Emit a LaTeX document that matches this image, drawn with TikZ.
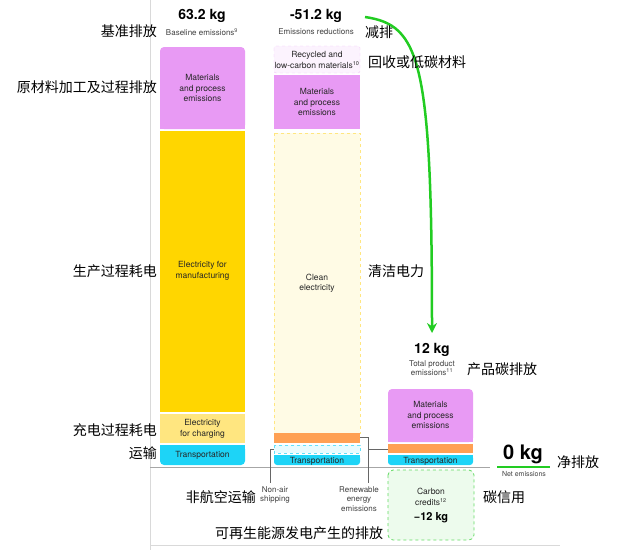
\documentclass[tikz,border=0pt]{standalone}
\usepackage{fontspec}
\usetikzlibrary{arrows.meta}
\setmainfont{TeX Gyre Heros}
\newfontfamily\cjk{Noto Sans CJK SC}
\begin{document}
\begin{tikzpicture}[x=1pt,y=-1pt,
  blk/.style={inner sep=0pt,align=center,font=\fontsize{8.5}{10.5}\selectfont,text=black!85},
  zh/.style={inner sep=0pt,font=\cjk\fontsize{14}{16}\selectfont},
  kg/.style={inner sep=0pt,font=\bfseries\fontsize{14}{16}\selectfont},
  sub/.style={inner sep=0pt,font=\fontsize{8}{9.5}\selectfont,text=black!75},
  lead/.style={draw=black!60,line width=0.6pt}]
\useasboundingbox (0,0) rectangle (640,550);
\definecolor{pinkc}{HTML}{E89AF4}
\definecolor{yel}{HTML}{FFD600}
\definecolor{lyel}{HTML}{FFE680}
\definecolor{cyanc}{HTML}{1DD4F7}
\definecolor{orng}{HTML}{FFA053}
\definecolor{grn}{HTML}{22CC22}
\draw[black!15] (150,0) -- (150,550);
% column 1
\fill[pinkc,rounded corners=4pt] (160,47) rectangle (245,129);
\fill[pinkc] (160,60) rectangle (245,129);
\fill[yel] (160,131) rectangle (245,412);
\fill[lyel] (160,414) rectangle (245,443);
\fill[cyanc,rounded corners=4pt] (160,445) rectangle (245,465);
\fill[cyanc] (160,445) rectangle (245,455);
\node[blk] (m1) at (202.5,88) {Materials\\and process\\emissions};
\node[blk] (e1) at (202.5,271) {Electricity for\\manufacturing};
\node[blk] (c1) at (202.5,429) {Electricity\\for charging};
\node[blk] (t1) at (202.5,455) {Transportation};
% column 2
\draw[pinkc!60,dashed,fill=pinkc!12,rounded corners=2pt] (274,46) rectangle (360,73);
\fill[pinkc] (274,75) rectangle (360,129);
\draw[lyel,dashed,fill=yel!10] (274,133) rectangle (360,433);
\fill[orng] (274,433) rectangle (360,443);
\draw[cyanc!70,dashed,fill=cyanc!10] (274,445) rectangle (360,453);
\fill[cyanc,rounded corners=3pt] (274,455) rectangle (360,465);
\fill[cyanc] (274,455) rectangle (360,460);
\node[blk] (r2) at (317,60) {Recycled and\\low-carbon materials\textsuperscript{\fontsize{5.5}{5.5}\selectfont 10}};
\node[blk] (m2) at (317,102) {Materials\\and process\\emissions};
\node[blk] (e2) at (317,283) {Clean\\electricity};
\node[blk] (t2) at (317,461) {Transportation};
% column 3
\fill[pinkc,rounded corners=4pt] (388,389) rectangle (473,442);
\fill[pinkc] (388,400) rectangle (473,442);
\fill[orng] (388,444) rectangle (473,453);
\fill[cyanc,rounded corners=3pt] (388,455) rectangle (473,465);
\fill[cyanc] (388,455) rectangle (473,460);
\node[blk] (m3) at (430.5,415) {Materials\\and process\\emissions};
\node[blk] (t3) at (430.5,461) {Transportation};
% carbon credits
\draw[grn!70,dashed,fill=grn!8,rounded corners=5pt,line width=0.8pt] (388,470) rectangle (474,540);
\node[blk] (cc) at (431,497) {Carbon\\credits\textsuperscript{\fontsize{5.5}{5.5}\selectfont 12}};
\node[inner sep=0pt,font=\bfseries\fontsize{11}{13}\selectfont] (m12) at (431,518) {\textminus12 kg};
% baselines
\draw[black!35] (150,467) -- (490,467);
\draw[black!15] (150,545) -- (560,545);
% leaders
\coordinate (na) at (270,483);
\coordinate (re) at (368,483);
\draw[lead] (274,449) -- (270,449) -- (na);
\draw[lead] (360,437) -- (368,437) -- (re);
\draw[lead] (368,449) -- (388,449);
\node[sub,align=center,anchor=north] (nas) at (275,486) {Non-air\\shipping};
\node[sub,align=center,anchor=north] (res) at (359,486) {Renewable\\energy\\emissions};
% headings
\node[kg] (k1) at (202,16) {63.2 kg};
\node[sub] (b1) at (202,32) {Baseline emissions\textsuperscript{\fontsize{5.5}{5.5}\selectfont 9}};
\node[kg] (k2) at (316,16) {-51.2 kg};
\node[sub] (b2) at (316,32) {Emissions reductions};
\node[kg] (k3) at (432,350) {12 kg};
\node[sub,align=center] (b3) at (432,368) {Total product\\emissions\textsuperscript{\fontsize{5.5}{5.5}\selectfont 11}};
\node[inner sep=0pt,font=\bfseries\fontsize{20}{22}\selectfont] (k0) at (523,454) {0 kg};
\draw[grn,line width=2.5pt] (497,467) -- (550,467);
\node[sub,font=\fontsize{7}{8}\selectfont] (b0) at (524,474) {Net emissions};
% green arrow
\draw[grn,line width=2.5pt,-{Stealth[length=10pt,width=10pt]}] (365,17) .. controls (420,25) and (432,60) .. (432,333);
% chinese labels
\node[zh,anchor=east] at (157,31) {基准排放};
\node[zh,anchor=east] at (157,87) {原材料加工及过程排放};
\node[zh,anchor=east] at (157,271) {生产过程耗电};
\node[zh,anchor=east] at (157,430) {充电过程耗电};
\node[zh,anchor=east] at (157,453) {运输};
\node[zh,anchor=west] at (365,32) {减排};
\node[zh,anchor=west] at (368,62) {回收或低碳材料};
\node[zh,anchor=west] at (368,271) {清洁电力};
\node[zh,anchor=west] at (467,369) {产品碳排放};
\node[zh,anchor=west] at (557,462) {净排放};
\node[zh,anchor=west] at (483,497) {碳信用};
\node[zh,anchor=east] at (256,497) {非航空运输};
\node[zh] at (299,533) {可再生能源发电产生的排放};
\end{tikzpicture}
\end{document}
